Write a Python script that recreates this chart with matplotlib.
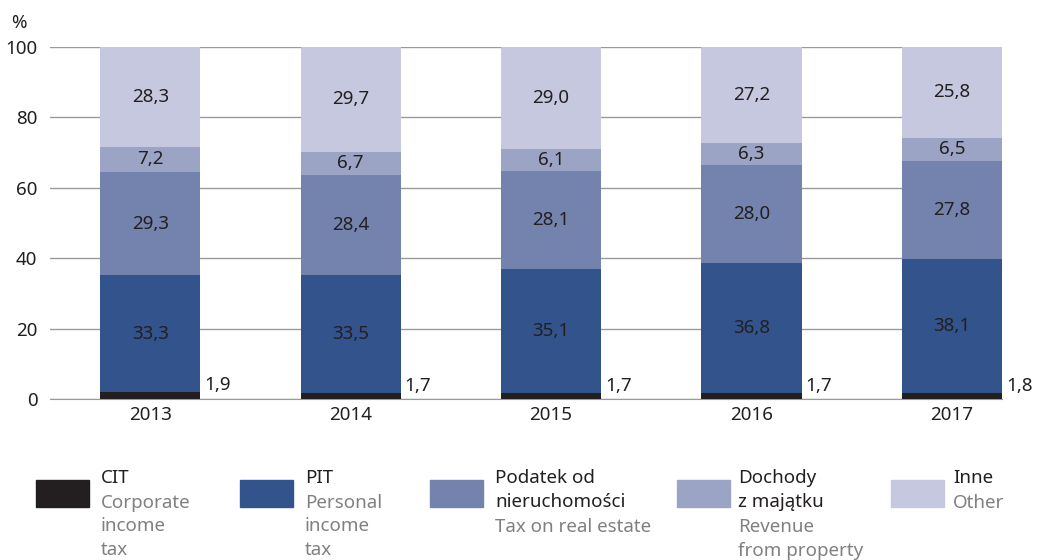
import matplotlib.pyplot as plt
from matplotlib.patches import Rectangle

years = ["2013", "2014", "2015", "2016", "2017"]
cit = [1.9, 1.7, 1.7, 1.7, 1.8]
pit = [33.3, 33.5, 35.1, 36.8, 38.1]
real_estate = [29.3, 28.4, 28.1, 28.0, 27.8]
property_rev = [7.2, 6.7, 6.1, 6.3, 6.5]
other = [28.3, 29.7, 29.0, 27.2, 25.8]

colors = ["#231f20", "#33538c", "#7383ae", "#9ca4c6", "#c5c8de"]
legend_pl = ["CIT", "PIT", "Podatek od\nnieruchomości", "Dochody\nz majątku", "Inne"]
legend_en = ["Corporate\nincome\ntax", "Personal\nincome\ntax", "Tax on real estate",
             "Revenue\nfrom property", "Other"]

plt.rcParams["font.family"] = ["Noto Sans", "DejaVu Sans"]
FS = 13.5

fig = plt.figure(figsize=(10.42, 5.6), dpi=100)
ax = fig.add_axes([50 / 1042, 1 - 399 / 560, 952 / 1042, 352 / 560])

series = [cit, pit, real_estate, property_rev, other]
x = list(range(len(years)))
bottom = [0.0] * len(years)
for i, vals in enumerate(series):
    ax.bar(x, vals, width=0.5, bottom=bottom, color=colors[i], zorder=3)
    for j, v in enumerate(vals):
        label = f"{v:.1f}".replace(".", ",")
        if i == 0:
            ax.text(x[j] + 0.27, bottom[j] + v - 0.6, label, ha="left", va="bottom",
                    fontsize=FS, color="#231f20", zorder=4)
        else:
            ax.text(x[j], bottom[j] + v / 2, label, ha="center", va="center",
                    fontsize=FS, color="#231f20", zorder=4)
    bottom = [b + v for b, v in zip(bottom, vals)]

ax.set_xlim(-0.5, 4.25)
ax.set_ylim(0, 100)
ax.set_yticks([0, 20, 40, 60, 80, 100])
ax.set_xticks(x)
ax.set_xticklabels(years)
ax.grid(axis="y", color="#9a9a9a", linewidth=1.0, zorder=0)
ax.tick_params(axis="both", length=0, labelsize=FS, colors="#231f20")
ax.tick_params(axis="y", pad=9)
ax.tick_params(axis="x", pad=5)
for s in ["top", "right", "left"]:
    ax.spines[s].set_visible(False)
ax.spines["bottom"].set_color("#9a9a9a")
fig.text(11 / 1042, 1 - 28 / 560, "%", fontsize=FS, color="#231f20")

# legend
patch_x = [36, 240, 430, 677, 891]
text_x = [101, 305, 495, 738, 953]
for i in range(len(colors)):
    fig.patches.append(Rectangle((patch_x[i] / 1042, 1 - 507 / 560), 53 / 1042, 27 / 560,
                                 transform=fig.transFigure, color=colors[i]))
    n_pl = legend_pl[i].count("\n") + 1
    fig.text(text_x[i] / 1042, 1 - 469 / 560, legend_pl[i], ha="left", va="top",
             fontsize=FS, color="#231f20", linespacing=1.4)
    fig.text(text_x[i] / 1042, 1 - (469 + 24.5 * n_pl) / 560, legend_en[i], ha="left", va="top",
             fontsize=FS, color="#808080", linespacing=1.4)

fig.savefig("out.png", dpi=100)
